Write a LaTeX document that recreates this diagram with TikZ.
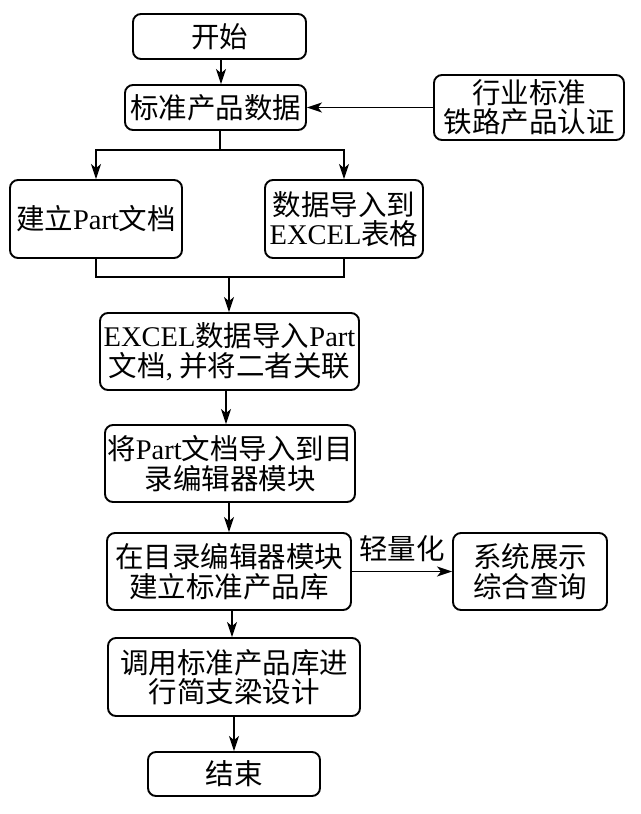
\documentclass[tikz,border=0pt]{standalone}
\usepackage{fontspec}
\setmainfont{Liberation Serif}
\newfontfamily\cjk{Noto Sans CJK SC}
\usetikzlibrary{arrows.meta,calc}
\newcommand{\C}[1]{{\cjk #1}}
\begin{document}
\begin{tikzpicture}[x=1pt,y=-1pt,
  box/.style={draw,line width=1.9pt,rounded corners=8pt,inner sep=0pt,align=center,
    font=\fontsize{28.5}{29.5}\selectfont},
  conn/.style={line width=1.9pt},
  arr/.style={conn,-{Stealth[length=15pt,width=10pt,inset=4pt]}}]
\useasboundingbox (0,0) rectangle (640,814);
\fill[white] (0,0) rectangle (640,814);
\node[box,minimum width=173pt,minimum height=45pt] (start) at (219.5,36.5) {\C{开始}};
\node[box,minimum width=181pt,minimum height=45pt] (std) at (215.5,107.5) {\C{标准产品数据}};
\node[box,minimum width=190pt,minimum height=65pt] (ind) at (529,107.5) {\C{行业标准}\\\C{铁路产品认证}};
\node[box,minimum width=172pt,minimum height=78pt] (part) at (96,219) {\C{建立}Part\C{文档}};
\node[box,minimum width=158pt,minimum height=78pt] (excel) at (344,219) {\C{数据导入到}\\EXCEL\C{表格}};
\node[box,minimum width=259pt,minimum height=77pt] (imp) at (229.5,351.5) {EXCEL\C{数据导入}Part\\\C{文档},\hspace{6pt}\C{并将二者关联}};
\node[box,minimum width=250pt,minimum height=77pt] (cat) at (230,463.5) {\C{将}Part\C{文档导入到目}\\\C{录编辑器模块}};
\node[box,minimum width=244pt,minimum height=77pt] (lib) at (229,571.5) {\C{在目录编辑器模块}\\\C{建立标准产品库}};
\node[box,minimum width=154pt,minimum height=77pt] (sys) at (530,571.5) {\C{系统展示}\\\C{综合查询}};
\node[box,minimum width=252pt,minimum height=78pt] (call) at (234,677) {\C{调用标准产品库进}\\\C{行简支梁设计}};
\node[box,minimum width=172pt,minimum height=44pt] (end) at (234,774) {\C{结束}};
\coordinate (b1) at (220,150);
\coordinate (m1) at (229,277);
% connectors
\draw[arr] (start.south -| 221,0) -- (std.north -| 221,0);
\draw[arr] (ind.west) -- (std.east);
\draw[conn] (std.south -| b1) -- (b1);
\draw[arr] (b1) -| (part.north);
\draw[arr] (b1) -| (excel.north);
\draw[conn] (part.south) |- (m1) -| (excel.south);
\draw[arr] (m1) -- (imp.north -| m1);
\draw[arr] (imp.south -| 226,0) -- (cat.north -| 226,0);
\draw[arr] (cat.south -| 229,0) -- (lib.north -| 229,0);
\draw[arr] (lib.east) -- node[above=5pt,font=\fontsize{28.5}{29.5}\selectfont\cjk] (lw) {轻量化} (sys.west);
\draw[arr] (lib.south -| 232,0) -- (call.north -| 232,0);
\draw[arr] (call.south -| 234,0) -- (end.north -| 234,0);
\end{tikzpicture}
\end{document}
